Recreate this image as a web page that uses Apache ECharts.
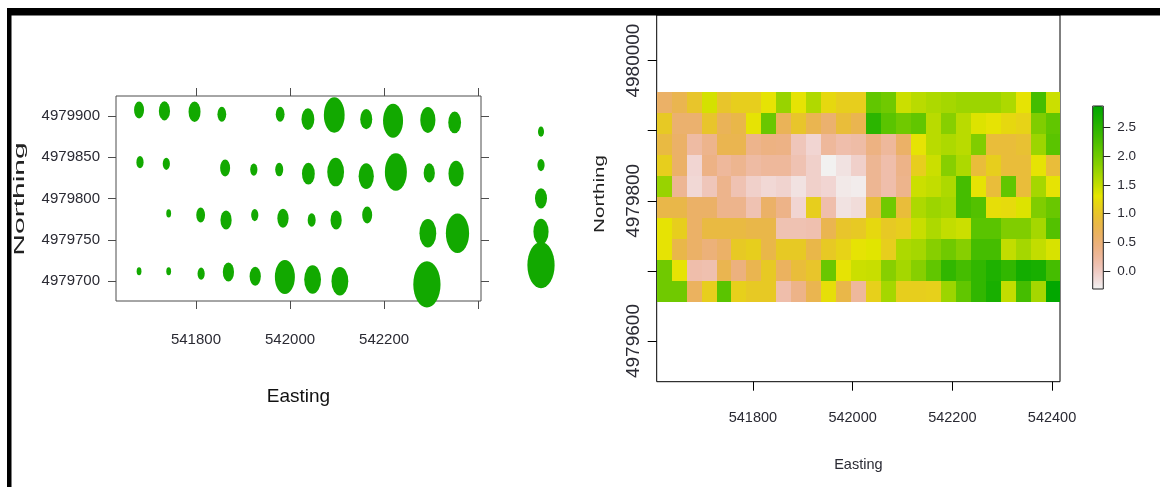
<!DOCTYPE html>
<html><head><meta charset="utf-8">
<script src="https://cdn.jsdelivr.net/npm/echarts@6/dist/echarts.min.js"></script>
<style>html,body{margin:0;padding:0;background:#fff}#c{width:1160px;height:487px}</style>
</head><body><div id="c"></div>
<script>
// ---------- Left panel: bubble plot (point samples) ----------
const bubbleEast = [
  541679, 541733, 541797, 541855, 541979, 542038, 542094, 542162, 542219, 542293, 542350,
  541681, 541737, 541862, 541923, 541977, 542039, 542097, 542162, 542225, 542296, 542353,
  541742, 541810, 541864, 541925, 541985, 542046, 542098, 542164, 542293, 542356,
  541679, 541742, 541811, 541869, 541926, 541989, 542048, 542106, 542291
];
const bubbleNorth = [
  4979907, 4979906, 4979905, 4979902, 4979902, 4979896, 4979901, 4979896, 4979894, 4979895, 4979892,
  4979844, 4979842, 4979837, 4979835, 4979835, 4979830, 4979832, 4979827, 4979832, 4979831, 4979830,
  4979782, 4979780, 4979774, 4979780, 4979776, 4979774, 4979774, 4979780, 4979758, 4979758,
  4979712, 4979712, 4979709, 4979711, 4979706, 4979705, 4979702, 4979700, 4979696
];
const bubbleValue = [
  1.25, 1.4, 1.5, 1.1, 1.1, 1.6, 2.6, 1.5, 2.5, 1.9, 1.6,
  0.9, 0.9, 1.25, 0.9, 1.0, 1.6, 2.1, 1.9, 2.75, 1.4, 1.9,
  0.6, 1.1, 1.4, 0.9, 1.4, 1.0, 1.4, 1.25, 2.1, 2.9,
  0.6, 0.6, 0.9, 1.4, 1.4, 2.5, 2.1, 2.1, 3.4
];
const bubbleLegendValues = [0.75, 0.9, 1.5, 1.9, 3.4];
const leftXTicks = [541800, 542000, 542200, 542400];
const leftXLabels = [541800, 542000, 542200];
const leftYTicks = [4979700, 4979750, 4979800, 4979850, 4979900];

// ---------- Right panel: gridded map ----------
const cellSize = 30;
const heatEast = [541622, 541652, 541682, 541712, 541742, 541772, 541802, 541832, 541862, 541892,
  541922, 541952, 541982, 542012, 542042, 542072, 542102, 542132, 542162, 542192,
  542222, 542252, 542282, 542312, 542342, 542372, 542402];
const heatNorth = [4979940, 4979910, 4979880, 4979850, 4979820, 4979790, 4979760, 4979730, 4979700, 4979670];
const heatValues = [
  [0.6,0.75,1.0,1.4,1.0,1.1,1.1,1.28,1.75,1.28,1.6,1.2,1.1,1.1,2.1,2.0,1.45,1.55,1.62,1.67,1.72,1.72,1.72,1.62,1.28,2.3,1.45],
  [1.05,0.55,0.55,1.0,0.7,0.8,1.28,2.05,0.7,1.0,0.75,0.55,0.9,0.75,2.5,2.15,2.0,2.1,1.55,1.85,1.55,1.35,1.28,1.2,1.15,1.9,2.1],
  [0.85,0.6,0.2,0.35,0.75,0.75,0.35,0.42,0.4,0.05,-0.1,0.25,0.15,0.18,0.42,0.25,0.6,1.28,1.55,1.62,1.55,1.9,0.9,0.9,0.95,1.72,2.15],
  [1.1,0.6,-0.1,0.4,0.25,0.33,0.2,0.25,0.25,0.1,-0.05,-0.3,-0.2,-0.05,0.3,0.15,0.38,1.1,1.45,1.85,1.62,0.9,1.1,0.9,0.9,1.28,0.9],
  [1.75,0.3,-0.12,0.05,0.35,0.1,-0.05,-0.12,-0.08,-0.2,-0.05,-0.1,-0.25,-0.27,0.3,0.15,0.35,1.45,1.5,1.62,2.3,1.28,0.9,2.1,0.9,1.67,1.28],
  [0.8,0.8,0.6,0.6,0.35,0.35,0.1,0.6,0.38,-0.1,1.1,0.15,-0.2,-0.15,0.9,2.0,0.9,1.62,1.72,1.67,2.3,2.2,1.25,1.22,1.35,1.9,2.05],
  [1.28,1.1,0.6,0.85,0.85,0.85,0.8,0.8,0.1,0.1,0.12,0.75,1.0,1.05,1.2,1.05,1.1,1.47,1.62,1.5,1.45,2.15,2.15,1.9,1.9,1.67,2.2],
  [1.28,0.8,0.6,0.48,0.6,1.05,1.1,0.8,1.05,1.05,0.8,1.05,1.15,1.28,1.33,1.1,1.62,1.67,1.85,2.0,1.85,2.3,2.3,1.5,1.67,1.5,1.38],
  [2.0,1.28,0.15,0.12,0.75,0.45,0.75,1.05,0.65,0.9,1.0,2.05,1.28,1.45,1.47,1.85,1.67,1.85,2.1,2.45,2.3,2.45,2.6,2.45,2.7,2.65,2.3],
  [2.0,2.0,0.65,1.1,2.15,1.12,1.05,1.05,0.15,0.38,0.75,1.25,0.8,0.25,1.12,1.67,1.1,1.1,1.12,1.72,2.1,2.45,2.65,1.5,2.3,1.67,2.85]
];
const rightXTicks = [541800, 542000, 542200, 542400];
const rightYTicks = [4979600, 4979700, 4979800, 4979900, 4980000];
const rightYLabels = [4979600, 4979800, 4980000];
const colorbarMin = -0.31, colorbarMax = 2.87;
const colorbarTicks = [0, 0.5, 1.0, 1.5, 2.0, 2.5];

// ---------- helpers ----------
const SANS = "'Liberation Sans',Arial,sans-serif";
const LABEL = '#2a2a33';
function hsv2hex(h, s, v) {
  const i = Math.floor(h * 6), f = h * 6 - i;
  const p = v * (1 - s), q = v * (1 - f * s), t = v * (1 - (1 - f) * s);
  let r, g, b;
  switch (((i % 6) + 6) % 6) {
    case 0: r = v; g = t; b = p; break;
    case 1: r = q; g = v; b = p; break;
    case 2: r = p; g = v; b = t; break;
    case 3: r = p; g = q; b = v; break;
    case 4: r = t; g = p; b = v; break;
    default: r = v; g = p; b = q;
  }
  return '#' + [r, g, b].map(x => Math.round(x * 255).toString(16).padStart(2, '0')).join('');
}
function terrainColors(n) {
  const k = Math.floor(n / 2), out = [];
  for (let i = 0; i < k; i++) { const t = i / (k - 1); out.push(hsv2hex(4/12 - 2/12 * t, 1, 0.65 + 0.25 * t)); }
  const m = n - k + 1;
  for (let i = 1; i < m; i++) { const t = i / (m - 1); out.push(hsv2hex(2/12 * (1 - t), 1 - t, 0.9 + 0.05 * t)); }
  return out;
}
const colorRamp = terrainColors(64).reverse();
const bubbleSize = d => [d[2] * 8, d[2] * 8 * 1.7];

const bubbleData = bubbleEast.map((e, i) => [e, bubbleNorth[i], bubbleValue[i]]);
const legendData = bubbleLegendValues.map((v, i) => [0, i, v]);
const heatData = [];
heatNorth.forEach((n, j) => heatEast.forEach((e, i) => heatData.push([e, n, heatValues[j][i]])));

const plain = v => String(v);
const chart = echarts.init(document.getElementById('c'), null, {renderer: 'canvas'});
chart.setOption({
  animation: false,
  backgroundColor: '#fff',
  textStyle: {fontFamily: SANS},
  grid: [
    {left: 116, top: 96, width: 365, height: 205, show: true, borderColor: '#4d4d4d', borderWidth: 1, backgroundColor: 'transparent'},
    {left: 531, top: 115, width: 20, height: 166.7, show: false},
    {left: 656.7, top: 15, width: 403.3, height: 366.7, show: true, borderColor: '#000', borderWidth: 1, backgroundColor: 'transparent'},
    {left: 1092.7, top: 106, width: 10.6, height: 183, show: true, borderColor: '#222', borderWidth: 1, backgroundColor: 'transparent', z: 10}
  ],
  xAxis: [
    {gridIndex: 0, type: 'value', min: 541630, max: 542406, position: 'bottom',
     axisLine: {show: false}, splitLine: {show: false},
     axisTick: {show: true, length: 8, customValues: leftXTicks, lineStyle: {color: '#4d4d4d'}},
     axisLabel: {customValues: leftXLabels, formatter: plain, margin: 31, fontSize: 15, fontFamily: SANS, color: LABEL},
     name: 'Easting', nameLocation: 'middle', nameGap: 86,
     nameTextStyle: {fontSize: 19, fontFamily: SANS, color: '#111'}},
    {gridIndex: 0, type: 'value', min: 541630, max: 542406, position: 'top',
     axisLine: {show: false}, splitLine: {show: false},
     axisTick: {show: true, length: 8, customValues: leftXTicks, lineStyle: {color: '#4d4d4d'}},
     axisLabel: {show: false}},
    {gridIndex: 1, type: 'category', data: ['k'], show: false},
    {gridIndex: 2, type: 'value', min: 541607, max: 542416, position: 'bottom',
     axisLine: {show: false}, splitLine: {show: false},
     axisTick: {show: true, length: 9, customValues: rightXTicks, lineStyle: {color: '#000'}},
     axisLabel: {customValues: rightXTicks, formatter: plain, margin: 29, fontSize: 14.5, fontFamily: SANS, color: LABEL},
     name: 'Easting', nameLocation: 'middle', nameGap: 76,
     nameTextStyle: {fontSize: 14.5, fontFamily: SANS, color: LABEL}},
    {gridIndex: 3, type: 'category', data: ['c'], show: false}
  ],
  yAxis: [
    {gridIndex: 0, type: 'value', min: 4979676, max: 4979924, position: 'left',
     axisLine: {show: false}, splitLine: {show: false},
     axisTick: {show: true, length: 8, customValues: leftYTicks, lineStyle: {color: '#4d4d4d'}},
     axisLabel: {customValues: leftYTicks, formatter: plain, margin: 16, fontSize: 15, fontFamily: SANS, color: LABEL}},
    {gridIndex: 0, type: 'value', min: 4979676, max: 4979924, position: 'right',
     axisLine: {show: false}, splitLine: {show: false},
     axisTick: {show: true, length: 8, customValues: leftYTicks, lineStyle: {color: '#4d4d4d'}},
     axisLabel: {show: false}},
    {gridIndex: 1, type: 'category', inverse: true, data: ['1', '2', '3', '4', '5'], show: false},
    {gridIndex: 2, type: 'value', min: 4979542, max: 4980065, position: 'left',
     axisLine: {show: false}, splitLine: {show: false},
     axisTick: {show: true, length: 9, customValues: rightYTicks, lineStyle: {color: '#000'}},
     axisLabel: {customValues: rightYLabels, formatter: plain, rotate: 90, margin: 13, fontSize: 19, fontFamily: SANS, color: LABEL}},
    {gridIndex: 3, type: 'value', min: colorbarMin, max: colorbarMax, position: 'right',
     axisLine: {show: false}, splitLine: {show: false},
     axisTick: {show: true, length: 7, customValues: colorbarTicks, lineStyle: {color: '#222'}},
     axisLabel: {customValues: colorbarTicks, formatter: v => v.toFixed(1), margin: 14, fontSize: 13.5, fontFamily: SANS, color: LABEL}}
  ],
  visualMap: [{
    type: 'continuous', min: colorbarMin, max: colorbarMax, dimension: 2, seriesIndex: 2,
    inRange: {color: colorRamp}, calculable: false, hoverLink: false, realtime: false,
    orient: 'vertical', left: 1092.7, top: 106, itemWidth: 10.6, itemHeight: 183, padding: 0
  }],
  series: [
    {type: 'scatter', xAxisIndex: 0, yAxisIndex: 0, data: bubbleData, symbol: 'circle',
     symbolSize: bubbleSize, itemStyle: {color: '#12a900', opacity: 1}, silent: true},
    {type: 'scatter', xAxisIndex: 2, yAxisIndex: 2, data: legendData, symbol: 'circle',
     symbolSize: bubbleSize, itemStyle: {color: '#12a900', opacity: 1}, silent: true},
    {type: 'custom', xAxisIndex: 3, yAxisIndex: 3, data: heatData, clip: true, silent: true,
     encode: {x: 0, y: 1},
     renderItem: function (params, api) {
       const e = api.value(0), n = api.value(1);
       const p0 = api.coord([e - cellSize / 2, n + cellSize / 2]);
       const p1 = api.coord([e + cellSize / 2, n - cellSize / 2]);
       const x0 = Math.round(p0[0]), y0 = Math.round(p0[1]);
       return {type: 'rect', shape: {x: x0, y: y0, width: Math.round(p1[0]) - x0, height: Math.round(p1[1]) - y0},
               style: {fill: api.visual('color')}};
     }}
  ],
  graphic: [
    {type: 'rect', z: 100, shape: {x: 7, y: 8, width: 1153, height: 7.5}, style: {fill: '#000'}},
    {type: 'rect', z: 100, shape: {x: 7, y: 8, width: 4.5, height: 479}, style: {fill: '#000'}},
    {type: 'text', z: 100, x: 20, y: 199, rotation: Math.PI / 2, scaleX: 2.0,
     style: {text: 'Northing', font: "15px 'Liberation Sans', Arial, sans-serif", fill: '#222', align: 'center', verticalAlign: 'middle'}},
    {type: 'text', z: 100, x: 600, y: 194, rotation: Math.PI / 2, scaleX: 1.42,
     style: {text: 'Northing', font: "14.5px 'Liberation Sans', Arial, sans-serif", fill: '#222', align: 'center', verticalAlign: 'middle'}}
  ]
});
</script>
</body></html>
